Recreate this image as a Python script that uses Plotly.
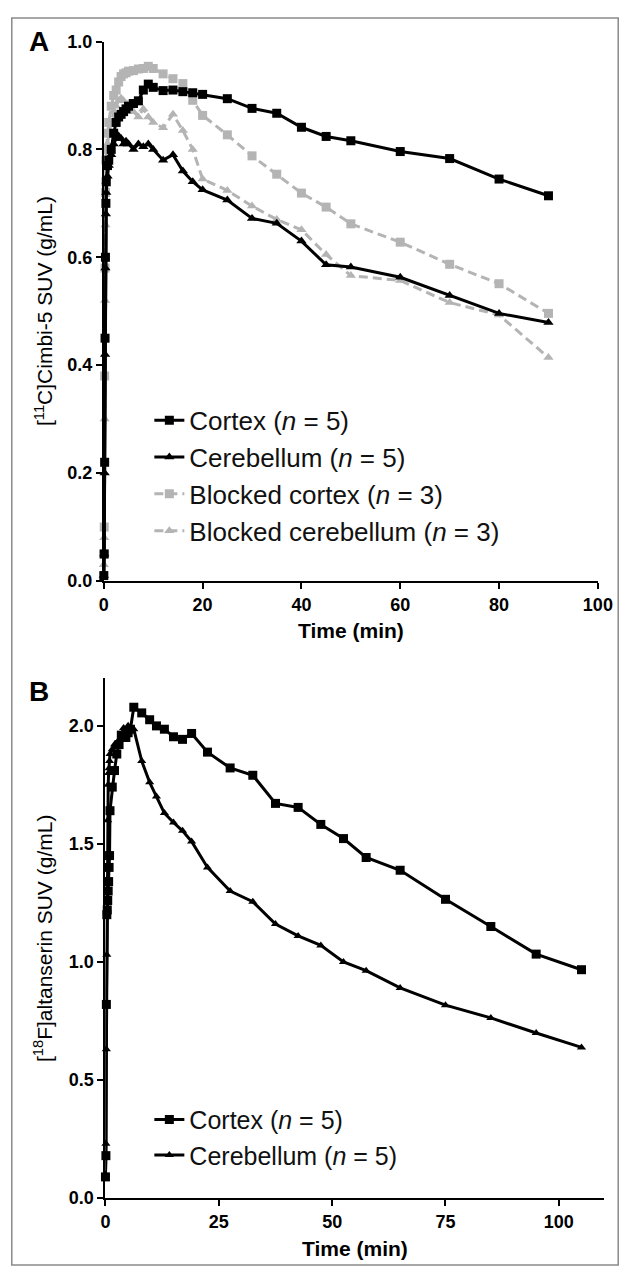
import plotly.graph_objects as go

# ---------------- Panel A data ([11C]Cimbi-5) ----------------
time_a = [0, 0.08, 0.17, 0.25, 0.33, 0.42, 0.5, 0.75, 1, 1.5, 2, 2.5, 3, 3.5, 4, 4.5, 5,
          6, 7, 8, 9, 10, 12, 14, 16, 18, 20, 25, 30, 35, 40, 45, 50, 60, 70, 80, 90]
cortex_a = [0.01, 0.05, 0.22, 0.45, 0.60, 0.70, 0.74, 0.77, 0.78, 0.80, 0.83, 0.85, 0.86, 0.865,
            0.87, 0.875, 0.88, 0.885, 0.89, 0.91, 0.921, 0.915, 0.909, 0.91, 0.907, 0.905, 0.902,
            0.894, 0.876, 0.867, 0.841, 0.824, 0.816, 0.796, 0.783, 0.745, 0.714]
cerebellum_a = [0.01, 0.05, 0.20, 0.42, 0.58, 0.68, 0.72, 0.75, 0.77, 0.79, 0.81, 0.82, 0.825, 0.82,
                0.81, 0.815, 0.81, 0.80, 0.81, 0.805, 0.81, 0.80, 0.78, 0.79, 0.76, 0.74, 0.725,
                0.706, 0.672, 0.663, 0.630, 0.586, 0.582, 0.563, 0.529, 0.496, 0.479]
blocked_cortex_a = [0.05, 0.10, 0.38, 0.58, 0.72, 0.78, 0.80, 0.83, 0.85, 0.88, 0.90, 0.91, 0.925,
                    0.935, 0.94, 0.942, 0.945, 0.946, 0.949, 0.95, 0.954, 0.95, 0.94, 0.931, 0.922,
                    0.891, 0.863, 0.827, 0.788, 0.754, 0.719, 0.693, 0.662, 0.628, 0.587, 0.551, 0.496]
blocked_cerebellum_a = [0.03, 0.08, 0.30, 0.52, 0.66, 0.74, 0.78, 0.81, 0.83, 0.85, 0.87, 0.88, 0.89,
                        0.895, 0.89, 0.88, 0.885, 0.87, 0.86, 0.875, 0.86, 0.85, 0.84, 0.865, 0.835,
                        0.80, 0.745, 0.724, 0.695, 0.67, 0.651, 0.605, 0.566, 0.557, 0.516, 0.493, 0.414]

# ---------------- Panel B data ([18F]altanserin) ----------------
time_b = [0, 0.1, 0.2, 0.3, 0.4, 0.5, 0.6, 0.7, 0.8, 0.9, 1.0, 1.5, 2.0, 2.5, 3.0, 3.5, 4.0, 4.5,
          5.0, 5.5, 6.25, 8, 9.75, 11.25, 13, 15, 17, 19, 22.5, 27.5, 32.5, 37.5, 42.5, 47.5,
          52.5, 57.5, 65, 75, 85, 95, 105]
cortex_b = [0.09, 0.18, 0.82, 1.20, 1.22, 1.26, 1.30, 1.34, 1.40, 1.45, 1.64, 1.74, 1.81, 1.88, 1.92,
            1.96, 1.95, 1.95, 1.97, 1.985, 2.078, 2.054, 2.025, 1.999, 1.985, 1.953, 1.942, 1.967,
            1.888, 1.821, 1.79, 1.671, 1.654, 1.582, 1.522, 1.442, 1.388, 1.265, 1.15, 1.033, 0.967]
cerebellum_b = [0.10, 0.23, 0.63, 1.03, 1.35, 1.60, 1.75, 1.80, 1.82, 1.85, 1.88, 1.90, 1.92, 1.91,
                1.94, 1.96, 1.99, 1.98, 2.00, 1.99, 1.985, 1.85, 1.76, 1.70, 1.63, 1.59, 1.555, 1.51,
                1.40, 1.30, 1.255, 1.16, 1.11, 1.07, 1.00, 0.963, 0.89, 0.817, 0.763, 0.699, 0.638]

x_ticks_a = [0, 20, 40, 60, 80, 100]
y_ticks_a = [0.0, 0.2, 0.4, 0.6, 0.8, 1.0]
x_ticks_b = [0, 25, 50, 75, 100]
y_ticks_b = [0.0, 0.5, 1.0, 1.5, 2.0]

W, H = 640, 1282
FONT = "Liberation Sans, Arial, Helvetica, sans-serif"
BLACK = "#000000"
GRAY = "#b4b4b4"
DASH = "9px,5px"


def px(x):
    return x / W


def py(y):
    return 1 - y / H


fig = go.Figure()


def add_series(x, y, name, color, symbol, dash, xaxis, yaxis, legend, msize, rank, width):
    fig.add_trace(go.Scatter(
        x=x, y=y, name=name, mode="lines+markers",
        line=dict(color=color, width=width, dash=dash),
        marker=dict(symbol=symbol, size=msize, color=color),
        xaxis=xaxis, yaxis=yaxis, legend=legend, legendrank=rank, cliponaxis=False,
    ))


# gray (blocked) first so black lies on top
add_series(time_a, blocked_cortex_a, "Blocked cortex (<i>n</i> = 3)", GRAY, "square", DASH,
           "x", "y", "legend", 9, 3, 3)
add_series(time_a, blocked_cerebellum_a, "Blocked cerebellum (<i>n</i> = 3)", GRAY, "triangle-up", DASH,
           "x", "y", "legend", 9, 4, 3)
add_series(time_a, cortex_a, "Cortex (<i>n</i> = 5)", BLACK, "square", "solid",
           "x", "y", "legend", 9, 1, 3)
add_series(time_a, cerebellum_a, "Cerebellum (<i>n</i> = 5)", BLACK, "triangle-up", "solid",
           "x", "y", "legend", 9, 2, 3)
add_series(time_b, cortex_b, "Cortex (<i>n</i> = 5)", BLACK, "square", "solid",
           "x2", "y2", "legend2", 9, 1, 3)
add_series(time_b, cerebellum_b, "Cerebellum (<i>n</i> = 5)", BLACK, "triangle-up", "solid",
           "x2", "y2", "legend2", 8, 2, 3)

axis_common = dict(showline=True, linewidth=2, linecolor=BLACK, ticks="outside", ticklen=6,
                   tickwidth=2, tickcolor=BLACK, showgrid=False, zeroline=False,
                   tickfont=dict(family=FONT, size=18, color=BLACK, weight="bold"),
                   fixedrange=True)

fig.update_layout(
    width=W, height=H,
    margin=dict(l=0, r=0, t=0, b=0),
    paper_bgcolor="white", plot_bgcolor="white",
    font=dict(family=FONT, color=BLACK),
    xaxis=dict(domain=[px(102), px(612)], range=[0, 100], tickvals=x_ticks_a,
               anchor="y", **axis_common),
    yaxis=dict(domain=[py(580), py(32)], range=[0, 1.0], tickvals=y_ticks_a,
               tickformat=".1f", anchor="x", **axis_common),
    xaxis2=dict(domain=[px(103.7), px(618.5)], range=[0, 110], tickvals=x_ticks_b,
                anchor="y2", **axis_common),
    yaxis2=dict(domain=[py(1207), py(679)], range=[0, 2.2], tickvals=y_ticks_b,
                tickformat=".1f", anchor="x2", **axis_common),
    legend=dict(x=px(149), y=py(393), xanchor="left", yanchor="top",
                traceorder="normal", font=dict(family=FONT, size=26, color="#111"),
                bgcolor="rgba(0,0,0,0)", tracegroupgap=0, itemwidth=30),
    legend2=dict(x=px(149), y=py(1104), xanchor="left", yanchor="top",
                 traceorder="normal", font=dict(family=FONT, size=25, color="#111"),
                 bgcolor="rgba(0,0,0,0)", tracegroupgap=0, itemwidth=30),
    showlegend=True,
)

annotations = [
    dict(text="<b>A</b>", x=px(35), y=py(32), font=dict(size=28)),
    dict(text="<b>B</b>", x=px(35), y=py(692), font=dict(size=28)),
    dict(text="<b>Time (min)</b>", x=px(357), y=py(630), font=dict(size=21)),
    dict(text="<b>Time (min)</b>", x=px(361), y=py(1258), font=dict(size=21)),
    dict(text="[<sup>11</sup>C]Cimbi-5 SUV (g/mL)", x=px(40), y=py(306), textangle=-90,
         font=dict(size=21)),
    dict(text="[<sup>18</sup>F]altanserin SUV (g/mL)", x=px(40), y=py(943), textangle=-90,
         font=dict(size=21)),
]
for a in annotations:
    a.update(xref="paper", yref="paper", showarrow=False, xanchor="center", yanchor="middle")
    a["font"].update(family=FONT, color=BLACK)
fig.update_layout(annotations=annotations)

# outer frame
fig.add_shape(type="rect", xref="paper", yref="paper", x0=px(7), x1=px(633), y0=py(1275), y1=py(8),
              line=dict(color="#8a8a8a", width=1.5), fillcolor="rgba(0,0,0,0)", layer="below")

fig.write_html("out.html", config={"displayModeBar": False},
               post_script="document.body.style.margin='0';document.body.style.overflow='hidden';")
